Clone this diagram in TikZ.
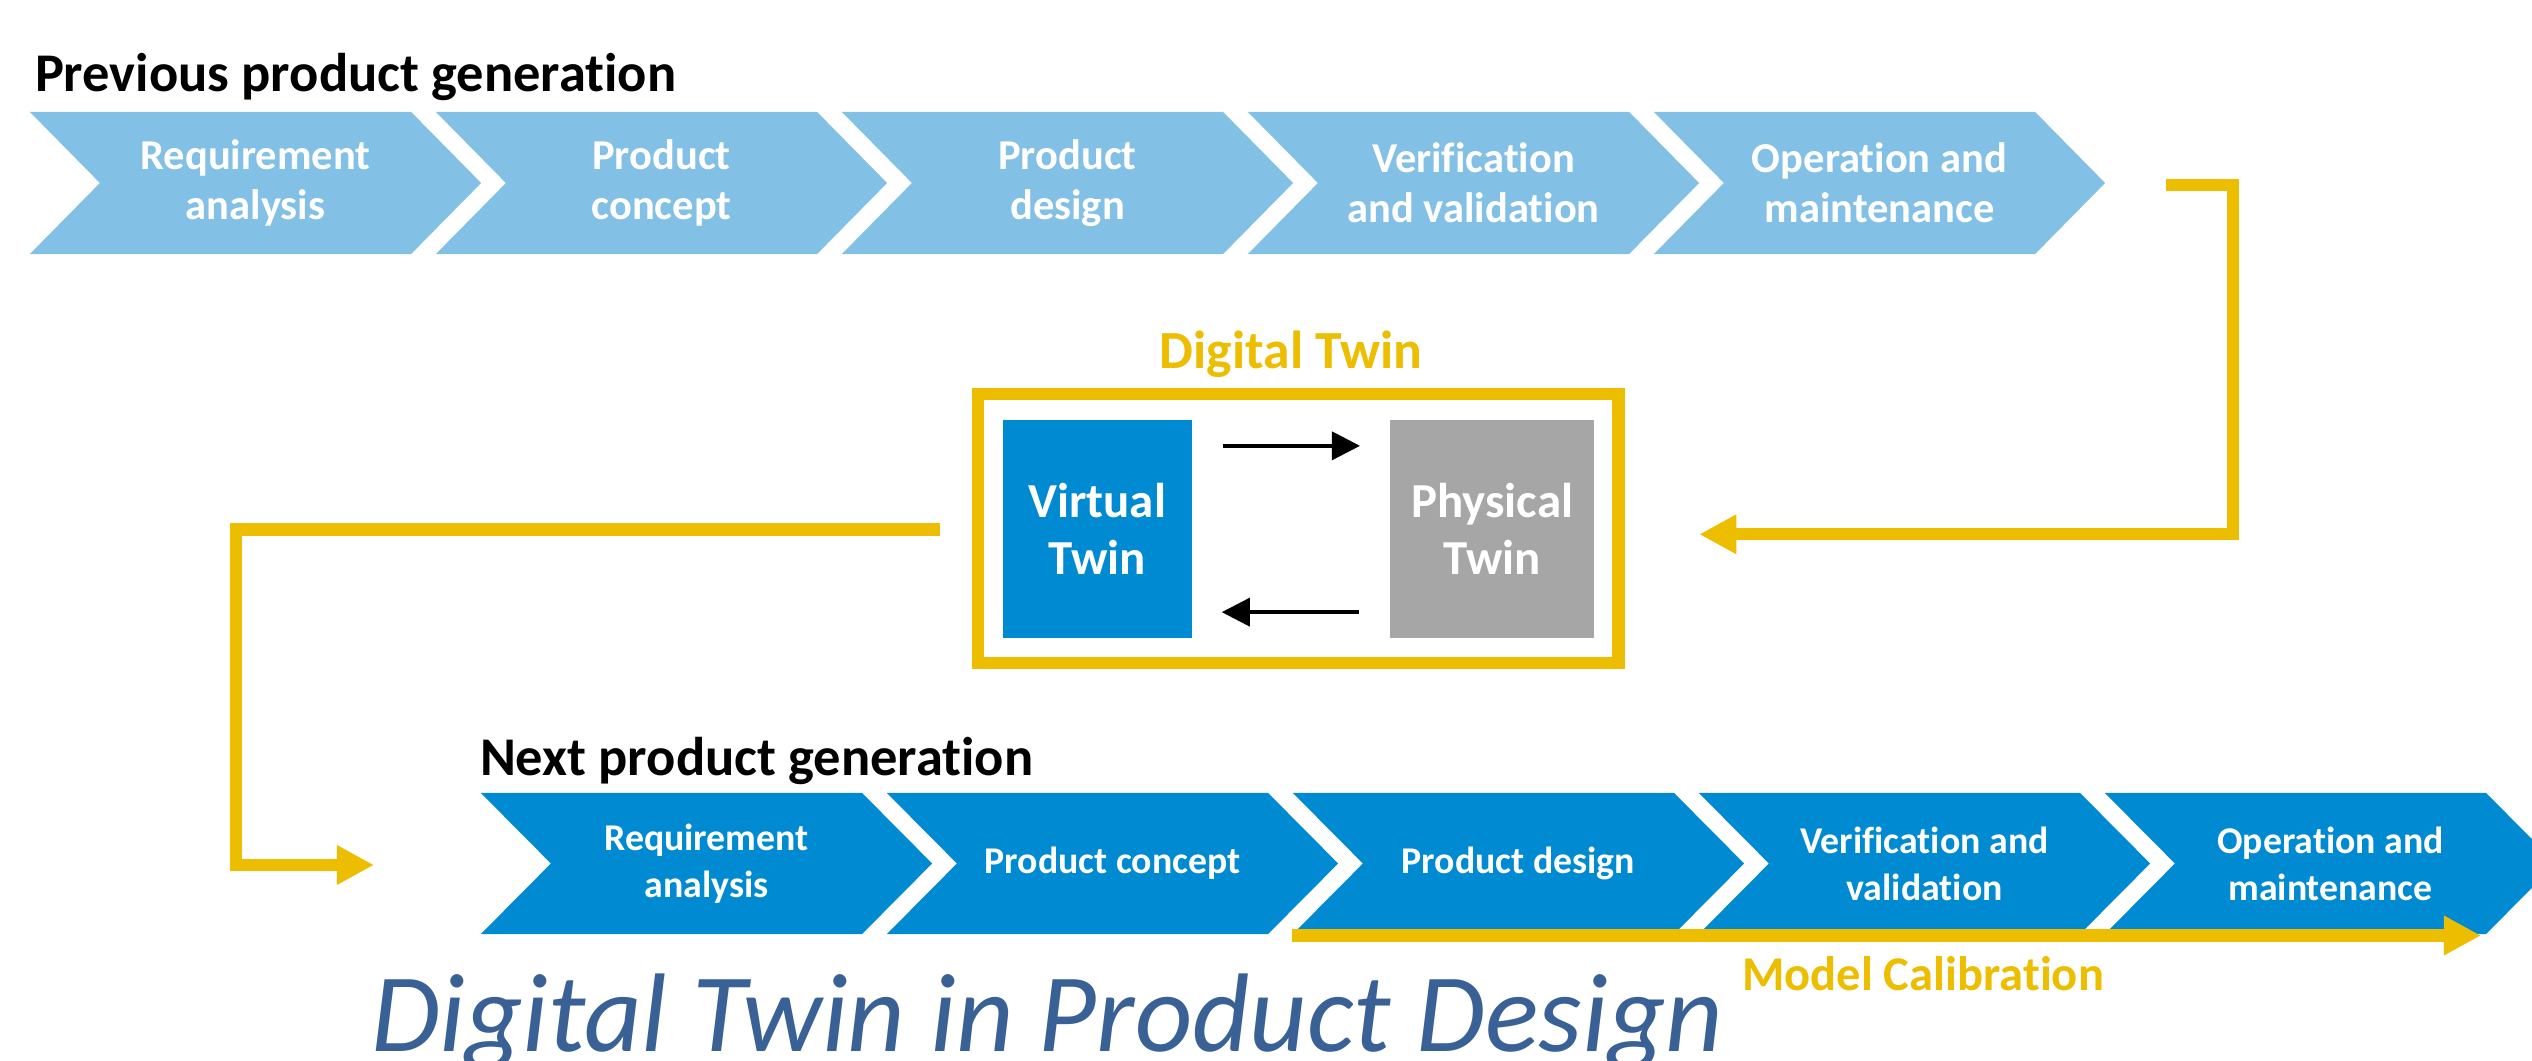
\documentclass[tikz,border=0pt]{standalone}
\usepackage{fontspec}
\setmainfont{Carlito}[Ligatures=NoCommon]
\usepackage{xcolor}
\usepackage{tikz}
\usetikzlibrary{arrows.meta, backgrounds}

\definecolor{prevblue}{HTML}{82C0E5}
\definecolor{nextblue}{HTML}{008AD1}
\definecolor{twinyellow}{HTML}{EDBD00}
\definecolor{twingray}{HTML}{A6A6A6}
\definecolor{titleblue}{HTML}{3A6195}

\begin{document}
\begin{tikzpicture}[
  x=0.01cm, y=-0.01cm,
  every node/.style={inner sep=0pt, outer sep=0pt, anchor=center},
  stage/.style={minimum width=4.51cm, minimum height=1.42cm, align=center, text=white},
  prevstage/.style={stage, font=\bfseries\fontsize{12.1}{14.2}\selectfont},
  nextstage/.style={stage, minimum height=1.41cm, font=\bfseries\fontsize{10.75}{13.3}\selectfont},
  heading/.style={anchor=base west, font=\bfseries\fontsize{15.5}{18}\selectfont},
  twinbox/.style={minimum width=1.89cm, minimum height=2.17cm, fill=#1, text=white,
    align=center, font=\bfseries\fontsize{13.9}{16.2}\selectfont},
  flow/.style={line width=0.12cm, draw=twinyellow, line join=miter,
    -{Triangle[length=0.37cm, width=0.37cm]}},
  link/.style={line width=0.036cm, -{Triangle[length=0.28cm, width=0.28cm]},
    shorten <=0.31cm, shorten >=0.30cm}
]
  \useasboundingbox (0,0) rectangle (2532,1061);

  % ----- previous product generation -----
  \node[heading] (prevhead) at (35,92) {Previous product generation};
  \node[prevstage] (P1) at (255.5,183) {Requirement\\analysis};
  \node[prevstage] (P2) at (661.5,183) {Product\\concept};
  \node[prevstage] (P3) at (1067.5,183) {Product\\design};
  \node[prevstage] (P4) at (1473.5,183) {Verification\\and validation};
  \node[prevstage] (P5) at (1879.5,183) {Operation and\\maintenance};

  % ----- digital twin -----
  \node[anchor=base, text=twinyellow, font=\bfseries\fontsize{15.25}{18}\selectfont]
    (dtlabel) at (1291,369) {Digital Twin};
  \node[draw=twinyellow, line width=0.12cm, minimum width=6.398cm, minimum height=2.685cm]
    (dt) at (1298.4,528.75) {};
  \node[twinbox=nextblue] (vt) at (1097.2,529) {Virtual\\Twin};
  \node[twinbox=twingray, minimum width=2.043cm] (pt) at (1492.2,529) {Physical\\Twin};
  \draw[link] ([yshift=-0.254cm]vt.north east) -- ([yshift=-0.254cm]pt.north west);
  \draw[link] ([yshift=0.254cm]pt.south west) -- ([yshift=0.254cm]vt.south east);

  % ----- next product generation -----
  \node[heading] (nexthead) at (480,776) {Next product generation};
  \node[nextstage] (N1) at (706.5,863.5) {Requirement\\analysis};
  \node[nextstage] (N2) at (1112.5,863.5) {Product concept};
  \node[nextstage] (N3) at (1518.5,863.5) {Product design};
  \node[nextstage] (N4) at (1924.5,863.5) {Verification and\\validation};
  \node[nextstage] (N5) at (2330.5,863.5) {Operation and\\maintenance};

  % chevron bodies behind the stage texts
  \begin{scope}[on background layer]
    \foreach \s/\c in {P1/prevblue, P2/prevblue, P3/prevblue, P4/prevblue, P5/prevblue,
                       N1/nextblue, N2/nextblue, N3/nextblue, N4/nextblue, N5/nextblue}
      \fill[\c] (\s.north west) -- ([xshift=-0.7cm]\s.north east) -- (\s.east)
        -- ([xshift=-0.7cm]\s.south east) -- (\s.south west)
        -- ([xshift=0.7cm]\s.west) -- cycle;
  \end{scope}

  % ----- feedback loops -----
  \coordinate (r0) at (2166,185);
  \coordinate (r1) at (2232.5,534.3);
  \coordinate (r2) at (1699.3,534.3);
  \draw[flow] (r0) -| (r1) -- (r2);
  \coordinate (l0) at (940,529.5);
  \coordinate (l1) at (236,865);
  \coordinate (l2) at (374,865);
  \draw[flow] (l0) -| (l1) -- (l2);

  % ----- model calibration -----
  \coordinate (m0) at (1292,935.5);
  \coordinate (m1) at (2481,935.5);
  \draw[flow] (m0) -- (m1);
  \node[anchor=base, text=twinyellow, font=\bfseries\fontsize{13.8}{16}\selectfont]
    (mclabel) at (1923,990) {Model Calibration};

  \node[anchor=base west, text=titleblue, font=\itshape\fontsize{31.8}{36}\selectfont]
    (title) at (371,1051) {Digital Twin in Product Design};
\end{tikzpicture}
\end{document}
